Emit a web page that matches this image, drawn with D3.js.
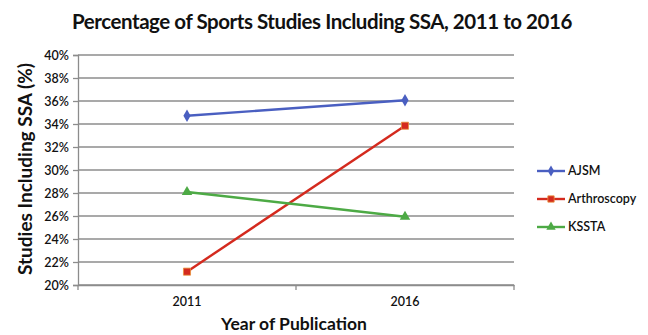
<!DOCTYPE html>
<html><head><meta charset="utf-8">
<script src="https://cdn.jsdelivr.net/npm/d3@7"></script>
<style>body{margin:0;background:#fff}svg{display:block}</style>
</head><body>
<svg id="c" width="648" height="335"></svg>
<script>
const years = ["2011", "2016"];
const ajsm = [34.72, 36.06];
const arthroscopy = [21.16, 33.85];
const kssta = [28.09, 25.94];
const yTicks = [20, 22, 24, 26, 28, 30, 32, 34, 36, 38, 40];
const seriesNames = ["AJSM", "Arthroscopy", "KSSTA"];

const series = [
  {name: seriesNames[0], values: ajsm, color: "#4a5fc1", marker: "diamond"},
  {name: seriesNames[1], values: arthroscopy, color: "#d42a1e", marker: "square"},
  {name: seriesNames[2], values: kssta, color: "#4daa45", marker: "triangle"}
];

const svg = d3.select("#c");
const font = "Lato, 'Open Sans', sans-serif";
const L = 78, R = 514, T = 55, B = 285;
const x = d3.scaleBand().domain(years).range([L, R]);
const y = d3.scaleLinear().domain([20, 40]).range([B, T]);

// gridlines
svg.append("g").selectAll("line").data(yTicks).join("line")
  .attr("x1", L).attr("x2", R).attr("y1", d => y(d)).attr("y2", d => y(d))
  .attr("stroke", "#8c8c8c").attr("stroke-width", 1.3);

// y axis
const ya = svg.append("g").attr("transform", `translate(${L},0)`)
  .call(d3.axisLeft(y).tickValues(yTicks).tickFormat(d => d + "%").tickSize(5).tickPadding(4));
ya.select(".domain").attr("stroke", "#8c8c8c").attr("stroke-width", 1.3);
ya.selectAll(".tick line").attr("stroke", "#8c8c8c").attr("stroke-width", 1.3);
ya.selectAll("text").attr("font-family", font).attr("font-weight", 600).attr("font-size", 12.5).attr("fill", "#111");

// x axis
const xa = svg.append("g").attr("transform", `translate(0,${B})`)
  .call(d3.axisBottom(x).tickSize(0).tickPadding(12));
xa.select(".domain").attr("stroke", "#8c8c8c").attr("stroke-width", 1.3);
xa.selectAll("text").attr("font-family", font).attr("font-weight", 600).attr("font-size", 12.5).attr("fill", "#111");
const bounds = [L, ...years.slice(1).map(d => x(d)), R];
xa.selectAll(".bt").data(bounds).join("line").attr("class", "bt")
  .attr("x1", d => d).attr("x2", d => d).attr("y1", 0).attr("y2", 5)
  .attr("stroke", "#8c8c8c").attr("stroke-width", 1.3);

const cx = d => x(d) + x.bandwidth() / 2;
const line = d3.line().x((d, i) => cx(years[i])).y(d => y(d));

function marker(g, type, color, size) {
  const sym = type === "diamond" ? d3.symbolDiamond : type === "square" ? d3.symbolSquare : d3.symbolTriangle;
  const s = type === "diamond" ? size * 0.9 : type === "square" ? size : size * 0.95;
  g.append("path").attr("d", d3.symbol().type(sym).size(s)())
    .attr("fill", color)
    .attr("stroke", type === "square" ? "#e8903a" : color).attr("stroke-width", type === "square" ? 0.8 : 0);
}

series.forEach(s => {
  svg.append("path").datum(s.values).attr("d", line)
    .attr("fill", "none").attr("stroke", s.color).attr("stroke-width", 2.4);
  s.values.forEach((v, i) => {
    const g = svg.append("g").attr("transform", `translate(${cx(years[i])},${y(v)})`);
    marker(g, s.marker, s.color, 50);
  });
});

// legend
const legY = [171, 199, 227];
series.forEach((s, i) => {
  const g = svg.append("g").attr("transform", `translate(537,${legY[i]})`);
  g.append("line").attr("x1", 0).attr("x2", 28).attr("y1", 0).attr("y2", 0)
    .attr("stroke", s.color).attr("stroke-width", 2.4);
  const m = g.append("g").attr("transform", "translate(14,0)");
  marker(m, s.marker, s.color, 40);
  g.append("text").attr("x", 31).attr("y", 0).attr("dy", "0.35em")
    .attr("font-family", font).attr("font-weight", 600).attr("font-size", 12.5).attr("fill", "#111").text(s.name);
});

// title & axis labels
svg.append("text").attr("x", 322).attr("y", 29).attr("text-anchor", "middle")
  .attr("font-family", font).attr("font-weight", "bold").attr("font-size", 20.5)
  .attr("letter-spacing", "-0.45px").attr("fill", "#111")
  .text("Percentage of Sports Studies Including SSA, 2011 to 2016");
svg.append("text").attr("x", 294).attr("y", 330).attr("text-anchor", "middle")
  .attr("font-family", font).attr("font-weight", "bold").attr("font-size", 17.5).attr("fill", "#111")
  .text("Year of Publication");
svg.append("text").attr("transform", "translate(32,169) rotate(-90)").attr("text-anchor", "middle")
  .attr("font-family", font).attr("font-weight", "bold").attr("font-size", 19).attr("fill", "#111")
  .text("Studies Including SSA (%)");
</script>
</body></html>
